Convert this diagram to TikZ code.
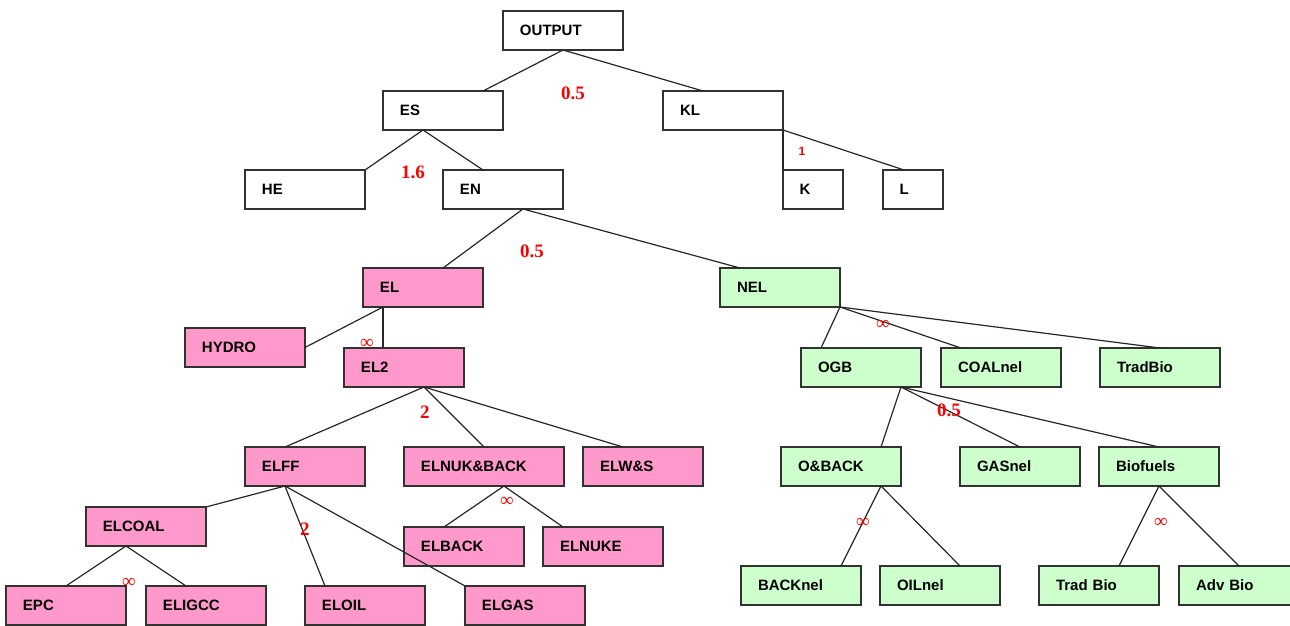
\documentclass[tikz,border=0pt]{standalone}
\usepackage{fontspec}
\setmainfont{Liberation Sans}
\newfontfamily\elasfont{Liberation Serif}
\usepackage{tikz}
\usepackage{xcolor}
\usetikzlibrary{positioning}
\definecolor{elpink}{RGB}{255,153,204}
\definecolor{nelgreen}{RGB}{204,255,204}
\definecolor{elasred}{RGB}{255,0,0}
\definecolor{boxline}{RGB}{50,50,50}

\begin{document}
\begin{tikzpicture}
	\tikzstyle{box} = [rectangle, draw=boxline, line width=1.2pt, fill=white, outer sep=0pt,
		minimum height=39pt, text width=86pt, inner xsep=17pt, inner ysep=0pt, align=left,
		font=\bfseries\fontsize{15}{15}\selectfont]
	\tikzstyle{smallbox} = [box, text width=27pt, inner xsep=16.5pt]
	\tikzstyle{wide} = [text width=126pt]
	\tikzstyle{elbox} = [box, fill=elpink]
	\tikzstyle{nelbox} = [box, fill=nelgreen]
	\tikzstyle{edge} = [line width=1.2pt, draw=black!85]
	\tikzstyle{elas} = [text=elasred, inner sep=0pt, font=\elasfont\bfseries\fontsize{19}{19}\selectfont]
	\tikzstyle{inf} = [text=elasred, inner sep=0pt, font=\elasfont\fontsize{19}{19}\selectfont]

	\useasboundingbox (-563pt,-595.5pt) rectangle (727pt,30.5pt);
	\clip (-563pt,-595.5pt) rectangle (727pt,30.5pt);

	% top levels
	\node (output) [box] {OUTPUT};
	\node (es) [box, below left=41pt and 0pt of output] {ES};
	\node (kl) [box, below right=41pt and 40pt of output] {KL};
	\node (he) [box, below left=40pt and 18pt of es] {HE};
	\node (en) [box, below=40pt of es.south east] {EN};
	\node (k) [smallbox, below right=40pt and 0pt of kl] {K};
	\node (l) [smallbox, right=40pt of k] {L};

	% electric branch
	\node (el) [elbox, below=59pt of en, xshift=-80pt] {EL};
	\node (hydro) [elbox, below left=21pt and 58pt of el] {HYDRO};
	\node (el2) [elbox, below=41pt of el, xshift=-19pt] {EL2};
	\node (elff) [elbox, below=60pt of el2, xshift=-99pt] {ELFF};
	\node (elnuk) [elbox, wide, right=39pt of elff] {ELNUK\&BACK};
	\node (elws) [elbox, right=19pt of elnuk] {ELW\&S};
	\node (elcoal) [elbox, below left=21pt and 39pt of elff] {ELCOAL};
	\node (elback) [elbox, below=41pt of elnuk, xshift=-20pt] {ELBACK};
	\node (elnuke) [elbox, right=19pt of elback] {ELNUKE};
	\node (epc) [elbox, below=40pt of elcoal, xshift=-80pt] {EPC};
	\node (eligcc) [elbox, right=20pt of epc] {ELIGCC};
	\node (eloil) [elbox, below=100pt of elff.south east] {ELOIL};
	\node (elgas) [elbox, right=40pt of eloil] {ELGAS};

	% non-electric branch
	\node (nel) [nelbox, below right=59pt and 157pt of en] {NEL};
	\node (ogb) [nelbox, below=41pt of nel, xshift=81pt] {OGB};
	\node (coalnel) [nelbox, right=20pt of ogb] {COALnel};
	\node (tradbio) [nelbox, right=39pt of coalnel] {TradBio};
	\node (oback) [nelbox, below=60pt of ogb, xshift=-20pt] {O\&BACK};
	\node (gasnel) [nelbox, right=59pt of oback] {GASnel};
	\node (biofuels) [nelbox, right=19pt of gasnel] {Biofuels};
	\node (backnel) [nelbox, below=80pt of oback, xshift=-40pt] {BACKnel};
	\node (oilnel) [nelbox, right=19pt of backnel] {OILnel};
	\node (tradbio2) [nelbox, below=80pt of biofuels.south west] {Trad Bio};
	\node (advbio) [nelbox, right=20pt of tradbio2] {Adv Bio};

	% connectors
	\draw (output.south) edge [edge] ([xshift=40pt]es.north);
	\draw (output.south) edge [edge] ([xshift=-20pt]kl.north);
	\draw ([xshift=-20pt]es.south) edge [edge] (he.north east);
	\draw ([xshift=-20pt]es.south) edge [edge] ([xshift=-20pt]en.north);
	\draw (kl.south east) edge [edge] (k.north west);
	\draw (kl.south east) edge [edge] ([xshift=-9pt]l.north);
	\draw ([xshift=20pt]en.south) edge [edge] ([xshift=20pt]el.north);
	\draw ([xshift=20pt]en.south) edge [edge] ([xshift=-40pt]nel.north);

	\draw ([xshift=-40pt]el.south) edge [edge] (hydro.east);
	\draw ([xshift=-40pt]el.south) edge [edge] ([xshift=-21pt]el2.north);
	\draw ([xshift=20pt]el2.south) edge [edge] ([xshift=-20pt]elff.north);
	\draw ([xshift=20pt]el2.south) edge [edge] (elnuk.north);
	\draw ([xshift=20pt]el2.south) edge [edge] ([xshift=-20pt]elws.north);
	\draw ([xshift=-20pt]elff.south) edge [edge] (elcoal.north east);
	\draw ([xshift=-20pt]elff.south) edge [edge] ([xshift=-40pt]eloil.north);
	\draw ([xshift=-20pt]elff.south) edge [edge] (elgas.north west);
	\draw ([xshift=20pt]elnuk.south) edge [edge] ([xshift=-20pt]elback.north);
	\draw ([xshift=20pt]elnuk.south) edge [edge] ([xshift=-40pt]elnuke.north);
	\draw ([xshift=-20pt]elcoal.south) edge [edge] (epc.north);
	\draw ([xshift=-20pt]elcoal.south) edge [edge] ([xshift=-20pt]eligcc.north);

	\draw (nel.south east) edge [edge] ([xshift=-40pt]ogb.north);
	\draw (nel.south east) edge [edge] ([xshift=-40pt]coalnel.north);
	\draw (nel.south east) edge [edge] (tradbio.north);
	\draw ([xshift=40pt]ogb.south) edge [edge] ([xshift=40pt]oback.north);
	\draw ([xshift=40pt]ogb.south) edge [edge] (gasnel.north);
	\draw ([xshift=40pt]ogb.south) edge [edge] (biofuels.north);
	\draw ([xshift=40pt]oback.south) edge [edge] ([xshift=40pt]backnel.north);
	\draw ([xshift=40pt]oback.south) edge [edge] ([xshift=20pt]oilnel.north);
	\draw (biofuels.south) edge [edge] ([xshift=20pt]tradbio2.north);
	\draw (biofuels.south) edge [edge] (advbio.north);

	% elasticities
	\node (sout) [elas] at ([xshift=10pt, yshift=-43pt]output.south) {0.5};
	\node (ses) [elas] at ([xshift=-30pt, yshift=-42pt]es.south) {1.6};
	\node (skl) [elas, font=\bfseries\fontsize{12}{12}\selectfont] at ([xshift=19pt, yshift=-21pt]kl.south east) {1};
	\node (sen) [elas] at ([xshift=29pt, yshift=-42pt]en.south) {0.5};
	\node (sel) [inf] at ([xshift=-56pt, yshift=-37pt]el.south) {∞};
	\node (sel2) [elas] at ([xshift=21pt, yshift=-25pt]el2.south) {2};
	\node (snel) [inf] at ([xshift=43pt, yshift=-18pt]nel.south east) {∞};
	\node (sogb) [elas] at ([xshift=88pt, yshift=-23pt]ogb.south) {0.5};
	\node (selnuk) [inf] at ([xshift=23pt, yshift=-16pt]elnuk.south) {∞};
	\node (selff) [elas] at ([xshift=0pt, yshift=-43pt]elff.south) {2};
	\node (selcoal) [inf] at ([xshift=-17pt, yshift=-37pt]elcoal.south) {∞};
	\node (soback) [inf] at ([xshift=22pt, yshift=-37pt]oback.south) {∞};
	\node (sbio) [inf] at ([xshift=2pt, yshift=-37pt]biofuels.south) {∞};
\end{tikzpicture}
\end{document}
